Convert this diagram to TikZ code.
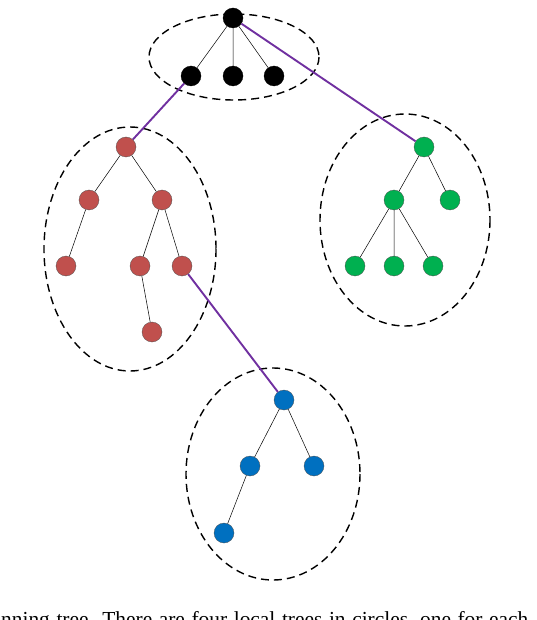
\documentclass[tikz,border=0pt]{standalone}
\usepackage{fontspec}
\setmainfont{Liberation Serif}
\begin{document}
\begin{tikzpicture}[x=1pt,y=-1pt,
  vtx/.style={circle,draw=black!70,line width=0.3pt,minimum size=20pt,inner sep=0pt},
  bk/.style={vtx,fill=black,draw=black},
  rd/.style={vtx,fill={rgb,255:red,192;green,80;blue,77}},
  gr/.style={vtx,fill={rgb,255:red,0;green,176;blue,80}},
  bl/.style={vtx,fill={rgb,255:red,0;green,112;blue,192}},
  tedge/.style={draw=black,line width=0.5pt},
  pedge/.style={draw={rgb,255:red,112;green,48;blue,160},line width=1.9pt},
  grp/.style={draw=black,line width=1.4pt,dash pattern=on 8pt off 5pt}]
\useasboundingbox (0,0) rectangle (536,620);
% groups
\draw[grp] (234,57) ellipse [x radius=85,y radius=43];
\draw[grp] (130,249) ellipse [x radius=86,y radius=122];
\draw[grp] (405,220) ellipse [x radius=85,y radius=106];
\draw[grp] (273,474) ellipse [x radius=87,y radius=106];
% black
\node[bk] (k0) at (233,18) {};
\node[bk] (k1) at (191,76) {};
\node[bk] (k2) at (233,76) {};
\node[bk] (k3) at (274,76) {};
% red
\node[rd] (r0) at (126,147) {};
\node[rd] (r1) at (89,200) {};
\node[rd] (r2) at (162,200) {};
\node[rd] (r3) at (66,266) {};
\node[rd] (r4) at (140,266) {};
\node[rd] (r5) at (182,266) {};
\node[rd] (r6) at (152,332) {};
% green
\node[gr] (g0) at (424,147) {};
\node[gr] (g1) at (394,200) {};
\node[gr] (g2) at (450,200) {};
\node[gr] (g3) at (355,266) {};
\node[gr] (g4) at (394,266) {};
\node[gr] (g5) at (433,266) {};
% blue
\node[bl] (b0) at (284,400) {};
\node[bl] (b1) at (250,466) {};
\node[bl] (b2) at (314,466) {};
\node[bl] (b3) at (224,533) {};
% tree edges
\draw[tedge] (k0) -- (k1) (k0) -- (k2) (k0) -- (k3);
\draw[tedge] (r0) -- (r1) (r0) -- (r2) (r1) -- (r3) (r2) -- (r4) (r2) -- (r5) (r4) -- (r6);
\draw[tedge] (g0) -- (g1) (g0) -- (g2) (g1) -- (g3) (g1) -- (g4) (g1) -- (g5);
\draw[tedge] (b0) -- (b1) (b0) -- (b2) (b1) -- (b3);
% spanning edges
\draw[pedge] (k0) -- (g0);
\draw[pedge] (k1) -- (r0);
\draw[pedge] (r5) -- (b0);
\node[anchor=base west,inner sep=0pt,font=\fontsize{21.4}{24}\selectfont] (cap) at (1,626) {\spaceskip=6.6pt\relax nning tree. There are four local trees in circles, one for each};
\end{tikzpicture}
\end{document}
